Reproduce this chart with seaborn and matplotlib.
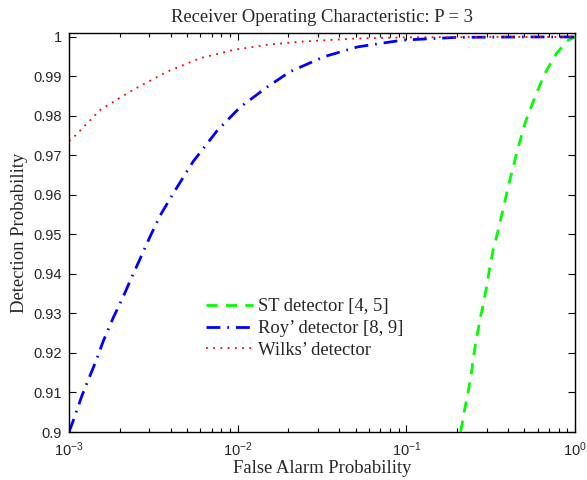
import numpy as np
import pandas as pd
import matplotlib
matplotlib.use("Agg")
import matplotlib.pyplot as plt
from matplotlib.ticker import LogLocator, FixedLocator, NullFormatter
import seaborn as sns

# ---- data ----
st_logx = [-0.678, -0.653, -0.633, -0.613, -0.599, -0.580, -0.560, -0.544, -0.524, -0.505, -0.485, -0.455,
           -0.396, -0.346, -0.297, -0.237, -0.178, -0.109, -0.040, 0.0]
st_pd   = [0.9001, 0.9060, 0.9102, 0.9153, 0.9199, 0.9246, 0.9292, 0.9322, 0.9368, 0.9418, 0.9461, 0.9511,
           0.9621, 0.9706, 0.9781, 0.9849, 0.9908, 0.9959, 0.9992, 1.0]

roy_logx = [-3.0, -2.978, -2.925, -2.876, -2.836, -2.797, -2.737, -2.678, -2.628, -2.579, -2.520, -2.461,
            -2.382, -2.265, -2.123, -1.986, -1.826, -1.69, -1.488, -1.287, -1.022, -0.7, -0.3, 0.0]
roy_pd   = [0.9000, 0.9025, 0.9090, 0.9142, 0.9184, 0.9230, 0.9290, 0.9343, 0.9392, 0.9438, 0.9494, 0.9547,
            0.9604, 0.9684, 0.9762, 0.9822, 0.9873, 0.9912, 0.9950, 0.9975, 0.9992, 0.9999, 1.0, 1.0]

wilks_logx = [-3.0, -2.984, -2.816, -2.621, -2.419, -2.223, -2.028, -1.826, -1.631, -1.3, -1.0, -0.5, 0.0]
wilks_pd   = [0.9737, 0.9741, 0.9815, 0.9866, 0.9912, 0.9946, 0.9967, 0.9980, 0.9988, 0.9996, 0.9999, 1.0, 1.0]

labels = ["ST detector [4, 5]", "Roy\u2019 detector [8, 9]", "Wilks\u2019 detector"]
title = "Receiver Operating Characteristic: P = 3"
xlabel = "False Alarm Probability"
ylabel = "Detection Probability"
yticks = [0.9, 0.91, 0.92, 0.93, 0.94, 0.95, 0.96, 0.97, 0.98, 0.99, 1.0]
yticklabels = ["0.9", "0.91", "0.92", "0.93", "0.94", "0.95", "0.96", "0.97", "0.98", "0.99", "1"]

frames = []
for lx, yv, lab in [(st_logx, st_pd, labels[0]), (roy_logx, roy_pd, labels[1]), (wilks_logx, wilks_pd, labels[2])]:
    frames.append(pd.DataFrame({"pfa": 10.0 ** np.array(lx), "pd": yv, "detector": lab}))
df = pd.concat(frames, ignore_index=True)

sns.set_style("white")
plt.rcParams["font.family"] = ["Liberation Serif", "DejaVu Serif"]

fig = plt.figure(figsize=(5.87, 4.80), dpi=100)
ax = fig.add_axes([69 / 587, 1 - 432 / 480, (575 - 69) / 587, (432 - 33) / 480])

styles = {
    labels[0]: dict(color=(0, 1, 0), linestyle=(0, (4, 3)), linewidth=2.0),
    labels[1]: dict(color=(0, 0, 1), linestyle=(0, (5, 2.5, 0.6, 2.5)), linewidth=2.0),
    labels[2]: dict(color=(1, 0, 0), linestyle=(0, (1, 3)), linewidth=1.3),
}
for lab in labels:
    sub = df[df["detector"] == lab]
    sns.lineplot(data=sub, x="pfa", y="pd", ax=ax, label=lab, sort=False,
                 estimator=None, **styles[lab])

ax.set_xscale("log")
ax.set_xlim(1e-3, 1.0)
ax.set_ylim(0.9, 1.001)
ax.yaxis.set_major_locator(FixedLocator(yticks))
ax.set_yticklabels(yticklabels)
ax.xaxis.set_major_locator(LogLocator(base=10, numticks=10))
ax.xaxis.set_minor_locator(LogLocator(base=10, subs=np.arange(2, 10), numticks=50))
ax.xaxis.set_minor_formatter(NullFormatter())

for lbl in ax.get_xticklabels() + ax.get_yticklabels():
    lbl.set_family(["Liberation Sans", "DejaVu Sans"])
    lbl.set_fontsize(10.5)

ax.tick_params(which="both", direction="in", top=True, right=True, bottom=True, left=True,
               color="black", width=0.8)
ax.tick_params(axis="y", which="major", length=5, pad=5)
ax.tick_params(axis="x", which="major", length=5, pad=6)
ax.tick_params(which="minor", length=3)
for s in ax.spines.values():
    s.set_color("black")
    s.set_linewidth(1.0)

ax.set_title(title, fontsize=13.4, pad=8)
ax.set_xlabel(xlabel, fontsize=13.4, labelpad=1)
ax.set_ylabel(ylabel, fontsize=13.4, labelpad=4)

leg = ax.legend(loc="upper left", bbox_to_anchor=(0.271, 0.335), frameon=False, fontsize=13.4,
                handlelength=2.5, handletextpad=0.3, labelspacing=0.25,
                borderpad=0.0, borderaxespad=0.0)

fig.savefig("out.png", dpi=100)
